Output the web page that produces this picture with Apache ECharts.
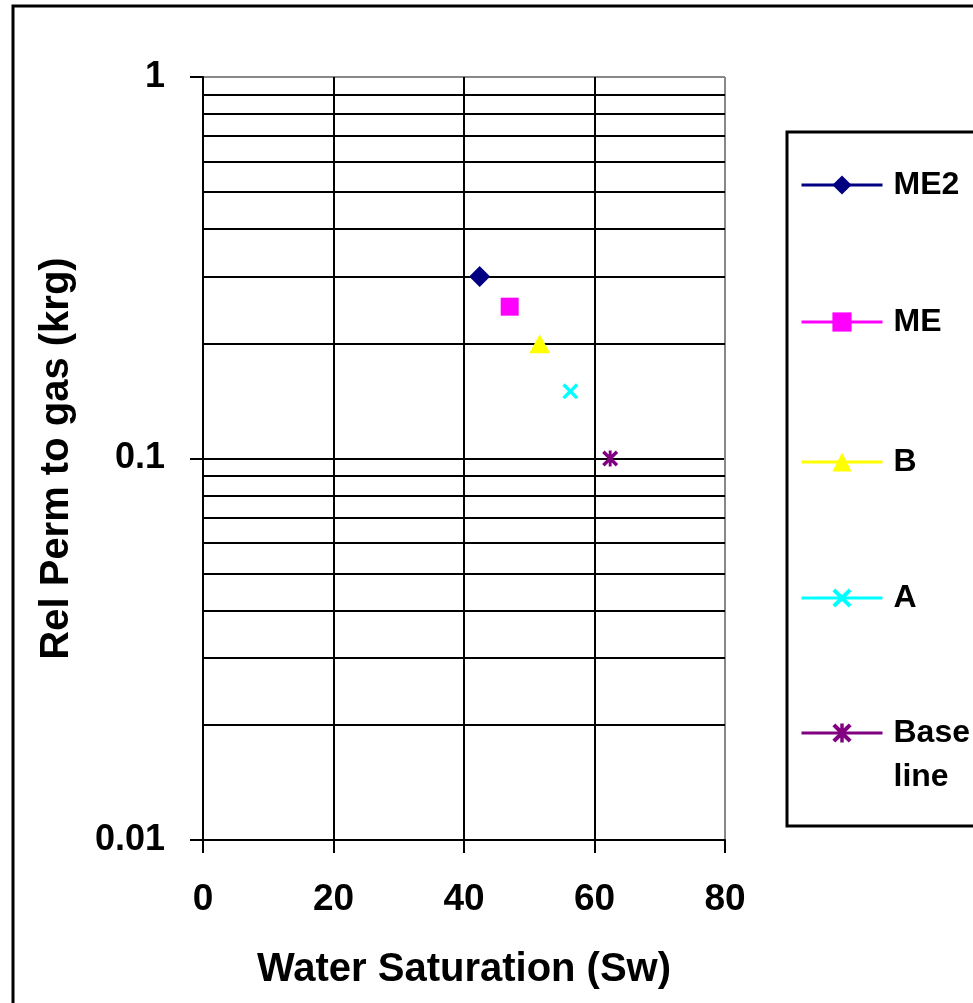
<!DOCTYPE html>
<html><head><meta charset="utf-8">
<script src="https://cdn.jsdelivr.net/npm/echarts@6/dist/echarts.min.js"></script>
<style>html,body{margin:0;padding:0;background:#fff}#c{width:973px;height:1003px}</style>
</head><body><div id="c"></div>
<script>
// ---- data ----
const seriesNames = ['ME2', 'ME', 'B', 'A', 'Base line'];
const waterSat = [42.4, 47.0, 51.6, 56.3, 62.4];
const relPerm = [0.30, 0.25, 0.20, 0.15, 0.10];
const xTickValues = [0, 20, 40, 60, 80];
const yDecades = [0.01, 0.1, 1];
const yMinorGrid = [0.02, 0.03, 0.04, 0.05, 0.06, 0.07, 0.08, 0.09,
                    0.2, 0.3, 0.4, 0.5, 0.6, 0.7, 0.8, 0.9];

// ---- styles ----
const FONT = "'Liberation Sans', Arial, sans-serif";
const colors = ['#000080', '#FF00FF', '#FFFF00', '#00FFFF', '#800080'];
const xPath = 'path://M0,1.5L1.5,0L5,3.5L8.5,0L10,1.5L6.5,5L10,8.5L8.5,10L5,6.5L1.5,10L0,8.5L3.5,5Z';
const starPath = 'path://M0,1.5L1.5,0L5,3.5L8.5,0L10,1.5L6.5,5L10,8.5L8.5,10L5,6.5L1.5,10L0,8.5L3.5,5Z M4.1,0L5.9,0L5.9,10L4.1,10Z';
const symbols = ['diamond', 'rect', 'triangle', xPath, starPath];
const symbolSizes = [21, 18, [21, 19], 16, 16];
const legendTops = [169, 306, 446, 582, 667];

const series = seriesNames.map((name, i) => {
  const s = {
    name: name,
    type: 'line',
    data: [[waterSat[i], relPerm[i]]],
    symbol: symbols[i],
    symbolSize: symbolSizes[i],
    showSymbol: true,
    itemStyle: { color: colors[i] },
    lineStyle: { color: colors[i], width: 3 },
    animation: false,
    z: 5
  };
  if (i === 0) {
    s.markLine = {
      silent: true,
      symbol: 'none',
      animation: false,
      label: { show: false },
      lineStyle: { color: '#000', width: 2, type: 'solid' },
      data: yMinorGrid.map(v => ({ yAxis: v }))
    };
  }
  return s;
});

const legends = seriesNames.map((name, i) => {
  const isLast = name === 'Base line';
  return {
    data: [name],
    orient: 'vertical',
    left: 800,
    top: legendTops[i],
    padding: 0,
    itemWidth: 81,
    itemHeight: 24,
    selectedMode: false,
    lineStyle: { width: 3 },
    formatter: n => n === 'Base line' ? '\nBase\nline' : n,
    textStyle: {
      fontFamily: FONT, fontWeight: 'bold', fontSize: 32, color: '#000',
      lineHeight: isLast ? 44 : 24, padding: [0, 0, 0, 6]
    }
  };
});

const chart = echarts.init(document.getElementById('c'), null, { renderer: 'canvas' });
chart.setOption({
  backgroundColor: '#fff',
  animation: false,
  grid: { left: 203, top: 77, right: 248, bottom: 163, containLabel: false },
  xAxis: {
    type: 'value',
    min: 0, max: 80, interval: 20,
    name: 'Water Saturation (Sw)',
    nameLocation: 'middle',
    nameGap: 110,
    nameMoveOverlap: false,
    nameTextStyle: { fontFamily: FONT, fontWeight: 'bold', fontSize: 40, color: '#000' },
    axisLine: { show: true, onZero: false, lineStyle: { color: '#000', width: 2 } },
    axisTick: { show: true, inside: false, length: 13, lineStyle: { color: '#000', width: 2 } },
    axisLabel: { fontFamily: FONT, fontWeight: 'bold', fontSize: 37, color: '#000', margin: 41,
      formatter: v => String(v) },
    splitLine: { show: true, lineStyle: { color: ['#000', '#000', '#000', '#000', '#888'], width: 2 } }
  },
  yAxis: {
    type: 'log',
    logBase: 10,
    min: yDecades[0], max: yDecades[yDecades.length - 1],
    name: 'Rel Perm to gas (krg)',
    nameLocation: 'middle',
    nameGap: 126,
    nameMoveOverlap: false,
    nameTextStyle: { fontFamily: FONT, fontWeight: 'bold', fontSize: 40, color: '#000' },
    axisLine: { show: true, lineStyle: { color: '#000', width: 2 } },
    axisTick: { show: true, inside: false, length: 13, lineStyle: { color: '#000', width: 2 } },
    axisLabel: { fontFamily: FONT, fontWeight: 'bold', fontSize: 36, color: '#000', margin: 38,
      formatter: v => String(+(+v).toPrecision(3)) },
    splitLine: { show: true, lineStyle: { color: ['#000', '#000', '#888'], width: 2 } }
  },
  legend: legends,
  series: series,
  graphic: [
    { type: 'rect', silent: true, z: 100,
      shape: { x: 13, y: 6, width: 1000, height: 1050 },
      style: { fill: 'none', stroke: '#000', lineWidth: 3 } },
    { type: 'rect', silent: true, z: 100,
      shape: { x: 787, y: 132, width: 260, height: 694 },
      style: { fill: 'none', stroke: '#000', lineWidth: 3 } }
  ]
});
</script>
</body></html>
